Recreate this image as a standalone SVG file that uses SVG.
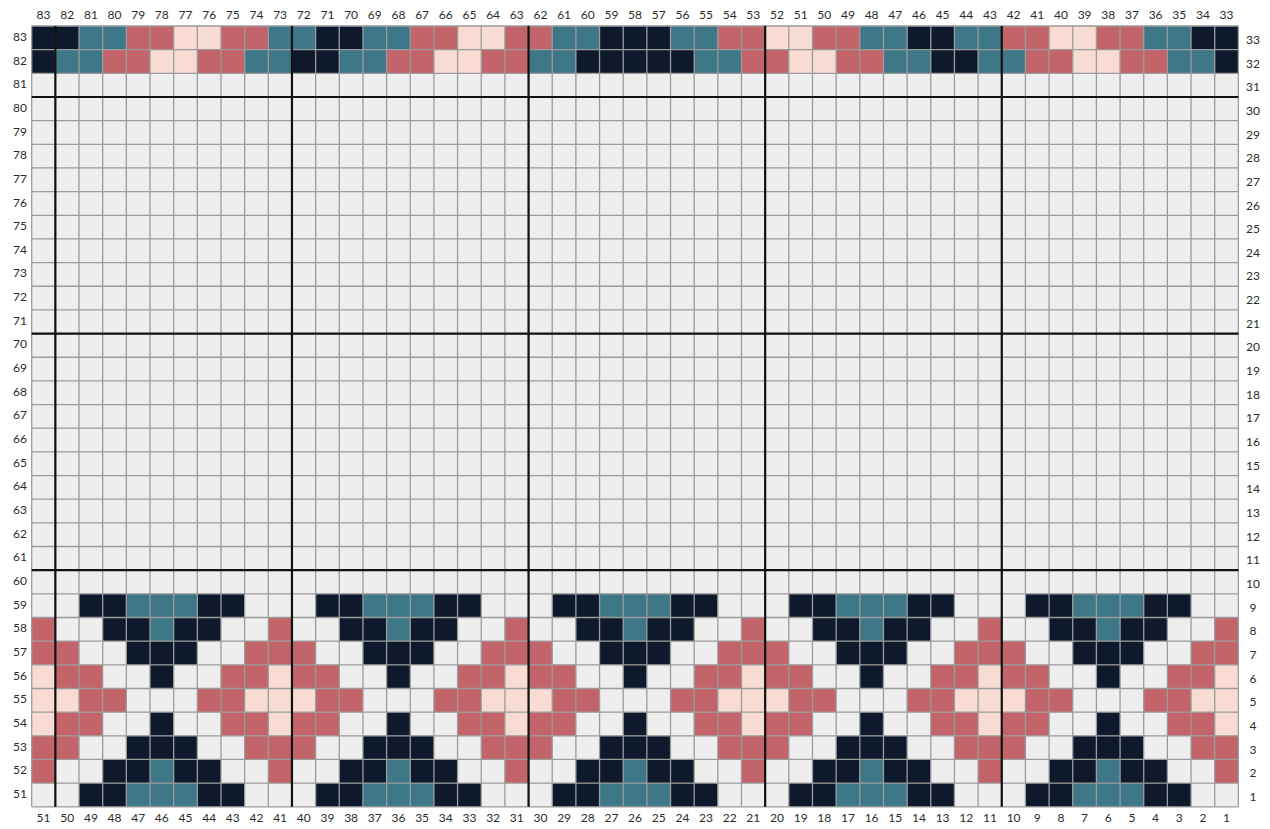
<svg xmlns="http://www.w3.org/2000/svg" xmlns:xlink="http://www.w3.org/1999/xlink" width="1270" height="829" viewBox="0 0 1270 829">
<style>
.n{fill:#0e1a2b}.t{fill:#3e7888}.r{fill:#c3636a}.p{fill:#f8dcd3}
.grid{fill:none;stroke:#9b9b9b;stroke-width:1.3}
.thick{fill:none;stroke:#111;stroke-width:2.2}
text{font-family:Lato,"Liberation Sans",sans-serif;font-size:12px;fill:#2b2b2b;text-anchor:middle}
</style>
<defs>
<g id="motif">
<rect class="n" x="2" y="0" width="2" height="1"/><rect class="n" x="7" y="0" width="2" height="1"/>
<rect class="n" x="3" y="1" width="2" height="1"/><rect class="n" x="6" y="1" width="2" height="1"/>
<rect class="n" x="4" y="2" width="3" height="1"/><rect class="n" x="5" y="3" width="1" height="1"/>
<rect class="n" x="5" y="5" width="1" height="1"/><rect class="n" x="4" y="6" width="3" height="1"/>
<rect class="n" x="3" y="7" width="2" height="1"/><rect class="n" x="6" y="7" width="2" height="1"/>
<rect class="n" x="2" y="8" width="2" height="1"/><rect class="n" x="7" y="8" width="2" height="1"/>
<rect class="t" x="4" y="0" width="3" height="1"/><rect class="t" x="5" y="1" width="1" height="1"/>
<rect class="t" x="5" y="7" width="1" height="1"/><rect class="t" x="4" y="8" width="3" height="1"/>
<rect class="r" x="0" y="1" width="1" height="1"/><rect class="r" x="0" y="2" width="2" height="1"/>
<rect class="r" x="9" y="2" width="1" height="1"/><rect class="r" x="1" y="3" width="2" height="1"/>
<rect class="r" x="8" y="3" width="2" height="1"/><rect class="r" x="2" y="4" width="2" height="1"/>
<rect class="r" x="7" y="4" width="2" height="1"/><rect class="r" x="1" y="5" width="2" height="1"/>
<rect class="r" x="8" y="5" width="2" height="1"/><rect class="r" x="0" y="6" width="2" height="1"/>
<rect class="r" x="9" y="6" width="1" height="1"/><rect class="r" x="0" y="7" width="1" height="1"/>
<rect class="p" x="0" y="3" width="1" height="1"/><rect class="p" x="0" y="4" width="2" height="1"/>
<rect class="p" x="9" y="4" width="1" height="1"/><rect class="p" x="0" y="5" width="1" height="1"/>
</g>
</defs>
<rect width="1270" height="829" fill="#ffffff"/>
<g id="chart" transform="translate(31.7 26) scale(23.66)">
<rect x="0" y="0" width="51" height="33" fill="#eeeeee"/>
<g id="row33">
<rect class="n" x="0" y="0" width="2" height="1"/><rect class="n" x="12" y="0" width="2" height="1"/><rect class="n" x="24" y="0" width="3" height="1"/><rect class="n" x="37" y="0" width="2" height="1"/><rect class="n" x="49" y="0" width="2" height="1"/>
<rect class="t" x="2" y="0" width="2" height="1"/><rect class="t" x="10" y="0" width="2" height="1"/><rect class="t" x="14" y="0" width="2" height="1"/><rect class="t" x="22" y="0" width="2" height="1"/><rect class="t" x="27" y="0" width="2" height="1"/><rect class="t" x="35" y="0" width="2" height="1"/><rect class="t" x="39" y="0" width="2" height="1"/><rect class="t" x="47" y="0" width="2" height="1"/>
<rect class="r" x="4" y="0" width="2" height="1"/><rect class="r" x="8" y="0" width="2" height="1"/><rect class="r" x="16" y="0" width="2" height="1"/><rect class="r" x="20" y="0" width="2" height="1"/><rect class="r" x="29" y="0" width="2" height="1"/><rect class="r" x="33" y="0" width="2" height="1"/><rect class="r" x="41" y="0" width="2" height="1"/><rect class="r" x="45" y="0" width="2" height="1"/>
<rect class="p" x="6" y="0" width="2" height="1"/><rect class="p" x="18" y="0" width="2" height="1"/><rect class="p" x="31" y="0" width="2" height="1"/><rect class="p" x="43" y="0" width="2" height="1"/>
</g>
<g id="row32">
<rect class="n" x="0" y="1" width="1" height="1"/><rect class="n" x="11" y="1" width="2" height="1"/><rect class="n" x="23" y="1" width="5" height="1"/><rect class="n" x="38" y="1" width="2" height="1"/><rect class="n" x="50" y="1" width="1" height="1"/>
<rect class="t" x="1" y="1" width="2" height="1"/><rect class="t" x="9" y="1" width="2" height="1"/><rect class="t" x="13" y="1" width="2" height="1"/><rect class="t" x="21" y="1" width="2" height="1"/><rect class="t" x="28" y="1" width="2" height="1"/><rect class="t" x="36" y="1" width="2" height="1"/><rect class="t" x="40" y="1" width="2" height="1"/><rect class="t" x="48" y="1" width="2" height="1"/>
<rect class="r" x="3" y="1" width="2" height="1"/><rect class="r" x="7" y="1" width="2" height="1"/><rect class="r" x="15" y="1" width="2" height="1"/><rect class="r" x="19" y="1" width="2" height="1"/><rect class="r" x="30" y="1" width="2" height="1"/><rect class="r" x="34" y="1" width="2" height="1"/><rect class="r" x="42" y="1" width="2" height="1"/><rect class="r" x="46" y="1" width="2" height="1"/>
<rect class="p" x="5" y="1" width="2" height="1"/><rect class="p" x="17" y="1" width="2" height="1"/><rect class="p" x="32" y="1" width="2" height="1"/><rect class="p" x="44" y="1" width="2" height="1"/>
</g>
<g id="border-motif">
<use xlink:href="#motif" href="#motif" x="0" y="24"/>
<use xlink:href="#motif" href="#motif" x="10" y="24"/>
<use xlink:href="#motif" href="#motif" x="20" y="24"/>
<use xlink:href="#motif" href="#motif" x="30" y="24"/>
<use xlink:href="#motif" href="#motif" x="40" y="24"/>
<rect class="r" x="50" y="25" width="1" height="2"/><rect class="p" x="50" y="27" width="1" height="3"/><rect class="r" x="50" y="30" width="1" height="2"/>
</g>
<path class="grid" vector-effect="non-scaling-stroke" d="M0 0V33M1 0V33M2 0V33M3 0V33M4 0V33M5 0V33M6 0V33M7 0V33M8 0V33M9 0V33M10 0V33M11 0V33M12 0V33M13 0V33M14 0V33M15 0V33M16 0V33M17 0V33M18 0V33M19 0V33M20 0V33M21 0V33M22 0V33M23 0V33M24 0V33M25 0V33M26 0V33M27 0V33M28 0V33M29 0V33M30 0V33M31 0V33M32 0V33M33 0V33M34 0V33M35 0V33M36 0V33M37 0V33M38 0V33M39 0V33M40 0V33M41 0V33M42 0V33M43 0V33M44 0V33M45 0V33M46 0V33M47 0V33M48 0V33M49 0V33M50 0V33M51 0V33M0 0H51M0 1H51M0 2H51M0 3H51M0 4H51M0 5H51M0 6H51M0 7H51M0 8H51M0 9H51M0 10H51M0 11H51M0 12H51M0 13H51M0 14H51M0 15H51M0 16H51M0 17H51M0 18H51M0 19H51M0 20H51M0 21H51M0 22H51M0 23H51M0 24H51M0 25H51M0 26H51M0 27H51M0 28H51M0 29H51M0 30H51M0 31H51M0 32H51M0 33H51"/>
<path class="thick" vector-effect="non-scaling-stroke" d="M1 0V33M11 0V33M21 0V33M31 0V33M41 0V33M0 3H51M0 13H51M0 23H51"/>
</g>
<g id="top-labels">
<text x="43.5" y="19">83</text><text x="67.2" y="19">82</text><text x="90.9" y="19">81</text><text x="114.5" y="19">80</text><text x="138.2" y="19">79</text><text x="161.8" y="19">78</text><text x="185.5" y="19">77</text><text x="209.2" y="19">76</text><text x="232.8" y="19">75</text><text x="256.5" y="19">74</text><text x="280.1" y="19">73</text><text x="303.8" y="19">72</text><text x="327.5" y="19">71</text><text x="351.1" y="19">70</text><text x="374.8" y="19">69</text><text x="398.4" y="19">68</text><text x="422.1" y="19">67</text><text x="445.8" y="19">66</text><text x="469.4" y="19">65</text><text x="493.1" y="19">64</text><text x="516.7" y="19">63</text><text x="540.4" y="19">62</text><text x="564.1" y="19">61</text><text x="587.7" y="19">60</text><text x="611.4" y="19">59</text><text x="635" y="19">58</text><text x="658.7" y="19">57</text><text x="682.4" y="19">56</text><text x="706" y="19">55</text><text x="729.7" y="19">54</text><text x="753.3" y="19">53</text><text x="777" y="19">52</text><text x="800.7" y="19">51</text><text x="824.3" y="19">50</text><text x="848" y="19">49</text><text x="871.6" y="19">48</text><text x="895.3" y="19">47</text><text x="919" y="19">46</text><text x="942.6" y="19">45</text><text x="966.3" y="19">44</text><text x="989.9" y="19">43</text><text x="1013.6" y="19">42</text><text x="1037.3" y="19">41</text><text x="1060.9" y="19">40</text><text x="1084.6" y="19">39</text><text x="1108.2" y="19">38</text><text x="1131.9" y="19">37</text><text x="1155.6" y="19">36</text><text x="1179.2" y="19">35</text><text x="1202.9" y="19">34</text><text x="1226.5" y="19">33</text>
</g>
<g id="bottom-labels">
<text x="43.5" y="821.5">51</text><text x="67.2" y="821.5">50</text><text x="90.9" y="821.5">49</text><text x="114.5" y="821.5">48</text><text x="138.2" y="821.5">47</text><text x="161.8" y="821.5">46</text><text x="185.5" y="821.5">45</text><text x="209.2" y="821.5">44</text><text x="232.8" y="821.5">43</text><text x="256.5" y="821.5">42</text><text x="280.1" y="821.5">41</text><text x="303.8" y="821.5">40</text><text x="327.5" y="821.5">39</text><text x="351.1" y="821.5">38</text><text x="374.8" y="821.5">37</text><text x="398.4" y="821.5">36</text><text x="422.1" y="821.5">35</text><text x="445.8" y="821.5">34</text><text x="469.4" y="821.5">33</text><text x="493.1" y="821.5">32</text><text x="516.7" y="821.5">31</text><text x="540.4" y="821.5">30</text><text x="564.1" y="821.5">29</text><text x="587.7" y="821.5">28</text><text x="611.4" y="821.5">27</text><text x="635" y="821.5">26</text><text x="658.7" y="821.5">25</text><text x="682.4" y="821.5">24</text><text x="706" y="821.5">23</text><text x="729.7" y="821.5">22</text><text x="753.3" y="821.5">21</text><text x="777" y="821.5">20</text><text x="800.7" y="821.5">19</text><text x="824.3" y="821.5">18</text><text x="848" y="821.5">17</text><text x="871.6" y="821.5">16</text><text x="895.3" y="821.5">15</text><text x="919" y="821.5">14</text><text x="942.6" y="821.5">13</text><text x="966.3" y="821.5">12</text><text x="989.9" y="821.5">11</text><text x="1013.6" y="821.5">10</text><text x="1037.3" y="821.5">9</text><text x="1060.9" y="821.5">8</text><text x="1084.6" y="821.5">7</text><text x="1108.2" y="821.5">6</text><text x="1131.9" y="821.5">5</text><text x="1155.6" y="821.5">4</text><text x="1179.2" y="821.5">3</text><text x="1202.9" y="821.5">2</text><text x="1226.5" y="821.5">1</text>
</g>
<g id="left-labels">
<text x="20" y="40.8">83</text><text x="20" y="64.5">82</text><text x="20" y="88.2">81</text><text x="20" y="111.8">80</text><text x="20" y="135.5">79</text><text x="20" y="159.1">78</text><text x="20" y="182.8">77</text><text x="20" y="206.5">76</text><text x="20" y="230.1">75</text><text x="20" y="253.8">74</text><text x="20" y="277.4">73</text><text x="20" y="301.1">72</text><text x="20" y="324.8">71</text><text x="20" y="348.4">70</text><text x="20" y="372.1">69</text><text x="20" y="395.7">68</text><text x="20" y="419.4">67</text><text x="20" y="443.1">66</text><text x="20" y="466.7">65</text><text x="20" y="490.4">64</text><text x="20" y="514">63</text><text x="20" y="537.7">62</text><text x="20" y="561.4">61</text><text x="20" y="585">60</text><text x="20" y="608.7">59</text><text x="20" y="632.3">58</text><text x="20" y="656">57</text><text x="20" y="679.7">56</text><text x="20" y="703.3">55</text><text x="20" y="727">54</text><text x="20" y="750.6">53</text><text x="20" y="774.3">52</text><text x="20" y="798">51</text>
</g>
<g id="right-labels">
<text x="1253" y="43.8">33</text><text x="1253" y="67.5">32</text><text x="1253" y="91.2">31</text><text x="1253" y="114.8">30</text><text x="1253" y="138.5">29</text><text x="1253" y="162.1">28</text><text x="1253" y="185.8">27</text><text x="1253" y="209.5">26</text><text x="1253" y="233.1">25</text><text x="1253" y="256.8">24</text><text x="1253" y="280.4">23</text><text x="1253" y="304.1">22</text><text x="1253" y="327.8">21</text><text x="1253" y="351.4">20</text><text x="1253" y="375.1">19</text><text x="1253" y="398.7">18</text><text x="1253" y="422.4">17</text><text x="1253" y="446.1">16</text><text x="1253" y="469.7">15</text><text x="1253" y="493.4">14</text><text x="1253" y="517">13</text><text x="1253" y="540.7">12</text><text x="1253" y="564.4">11</text><text x="1253" y="588">10</text><text x="1253" y="611.7">9</text><text x="1253" y="635.3">8</text><text x="1253" y="659">7</text><text x="1253" y="682.7">6</text><text x="1253" y="706.3">5</text><text x="1253" y="730">4</text><text x="1253" y="753.6">3</text><text x="1253" y="777.3">2</text><text x="1253" y="801">1</text>
</g>
</svg>
